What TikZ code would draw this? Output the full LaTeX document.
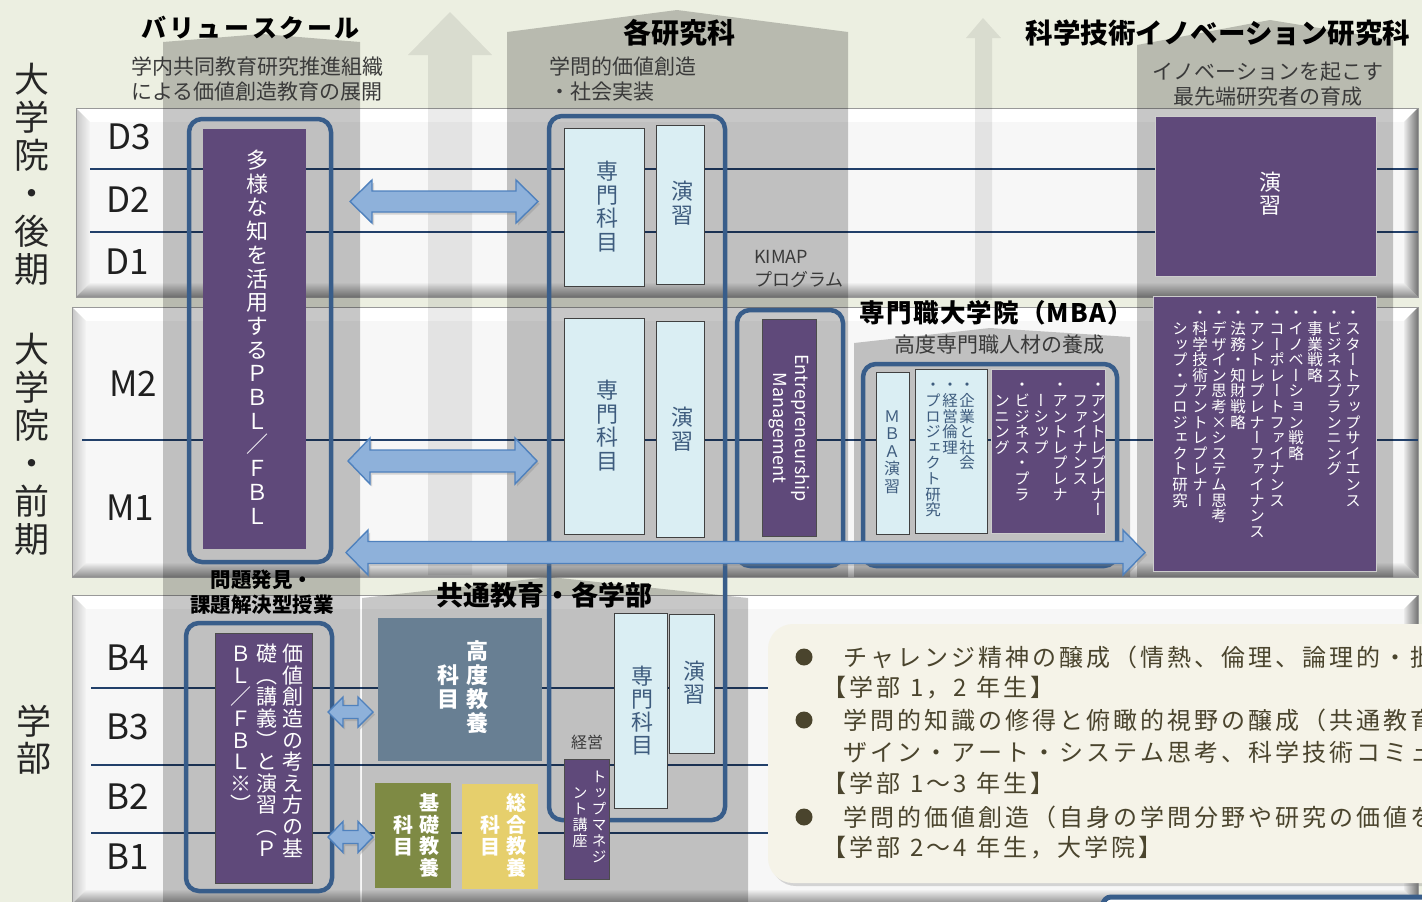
\documentclass[tikz,border=0pt]{standalone}
\usepackage{fontspec}
\setmainfont{Noto Sans CJK JP}
\newfontfamily\vjp[RawFeature=+vert]{Noto Sans CJK JP}
\newfontfamily\hjp{Noto Sans CJK JP}
\usetikzlibrary{shadows}
\definecolor{bgc}{HTML}{ECEFE1}
\definecolor{navy}{HTML}{22406A}
\definecolor{boxblue}{HTML}{385D8A}
\definecolor{purp}{HTML}{5F497A}
\definecolor{lblue}{HTML}{DAEEF3}
\definecolor{slate}{HTML}{3E5C7E}
\definecolor{arrowfill}{HTML}{8EB1DA}
\definecolor{arrowdraw}{HTML}{4F81BD}
\definecolor{steel}{HTML}{687F93}
\definecolor{olivebx}{HTML}{7E8A44}
\definecolor{mustard}{HTML}{E6CF6C}
\definecolor{cream}{HTML}{F5F3E8}
\definecolor{brownt}{HTML}{4A442D}
\definecolor{txt}{HTML}{3A3A3A}
\makeatletter
\newcommand\vstack[2]{\vbox{\baselineskip=#1pt\lineskiplimit=-\maxdimen\lineskip=0pt\@tfor\vs@c:=#2\do{\hbox to 1em{\hss\vs@c\hss\vrule height .88em depth .12em width 0pt}}}}
\newcommand\spaced[2]{\@tfor\sp@c:=#2\do{\sp@c\kern#1pt}}
\makeatother
\newcommand\bevband[4]{%
 \fill[white] (#1,#2) -- (#3,#2) -- (#3-14,#2+14) -- (#1+14,#2+14) -- cycle;
 \shade[left color=black!22, right color=black!4] (#1,#2) -- (#1+14,#2+14) -- (#1+14,#4-14) -- (#1,#4) -- cycle;
 \shade[top color=black!6, bottom color=black!45] (#1,#4) -- (#1+14,#4-14) -- (#3-14,#4-14) -- (#3,#4) -- cycle;
 \shade[left color=black!8, right color=black!55] (#3,#2) -- (#3-14,#2+14) -- (#3-14,#4-14) -- (#3,#4) -- cycle;
 \fill[black!3] (#1+14,#2+14) rectangle (#3-14,#4-14);
 \draw[black!40, line width=0.8pt] (#1,#2) rectangle (#3,#4);
}
\newcommand\dblarrow[6]{%
 \draw[barrow] (#1,#3) -- (#1+#6,#3-#4) -- (#1+#6,#3-#5) -- (#2-#6,#3-#5) -- (#2-#6,#3-#4) -- (#2,#3) -- (#2-#6,#3+#4) -- (#2-#6,#3+#5) -- (#1+#6,#3+#5) -- (#1+#6,#3+#4) -- cycle;}
\begin{document}
\begin{tikzpicture}[x=1pt,y=-1pt,
 vt/.style={inner sep=0pt, anchor=north},
 bluebx/.style={draw=boxblue, line width=4.5pt, rounded corners=13pt},
 pbox/.style={fill=purp, draw=black!70, line width=0.7pt},
 pboxw/.style={fill=purp, draw=white!80!black, line width=1pt},
 lbox/.style={fill=lblue, draw=black!75, line width=1pt},
 barrow/.style={fill=arrowfill, draw=arrowdraw, line width=1.4pt, drop shadow={shadow xshift=2pt, shadow yshift=-2.5pt, opacity=0.3}},
 colshade/.style={fill=black, fill opacity=0.22},
 lshade/.style={fill=black, fill opacity=0.08},
 rowline/.style={draw=navy, line width=1.8pt},
 rowlbl/.style={font=\fontsize{35}{38}\selectfont, text=black!88},
 sidelbl/.style={vt, font=\vjp\fontsize{35}{38}\selectfont, text=black!85},
 ttl/.style={font=\bfseries\fontsize{27}{30}\selectfont, text=black},
 sub/.style={font=\fontsize{21}{25}\selectfont, text=txt, align=center},
 wv/.style={vt, text=white},
 sv/.style={vt, text=slate},
 boxtxt/.style={anchor=west, inner sep=0pt, font=\fontsize{24}{28}\selectfont, text=brownt},
]
\fill[bgc] (0,0) rectangle (1422,902);
\path[use as bounding box] (0,0) rectangle (1422,902);
\clip (0,0) rectangle (1422,902);

% bands
\bevband{76}{108}{1418}{297}
\bevband{72}{307}{1418}{577}
\bevband{72}{595}{1418}{904}

% row lines
\draw[rowline] (90,169) -- (1418,169);
\draw[rowline] (90,232) -- (1418,232);
\draw[rowline] (82,440) -- (1418,440);
\draw[rowline] (91,688) -- (1418,688);
\draw[rowline] (91,765) -- (1418,765);
\draw[rowline] (91,833) -- (1418,833);

% shaded columns
\fill[colshade] (163,42) -- (262,34) -- (360,42) -- (360,902) -- (163,902) -- cycle;
\fill[colshade] (507,32) -- (677,10) -- (848,32) -- (848,577) -- (507,577) -- cycle;
\fill[colshade] (854,343) -- (990,328) -- (1130,337) -- (1130,577) -- (854,577) -- cycle;
\fill[colshade] (1137,45) -- (1270,20) -- (1393,40) -- (1393,577) -- (1137,577) -- cycle;
\fill[colshade] (362,598) -- (550,577) -- (748,598) -- (748,902) -- (362,902) -- cycle;
\fill[lshade] (450,12) -- (492,55) -- (472,55) -- (472,575) -- (428,575) -- (428,55) -- (408,55) -- cycle;
\fill[lshade] (983,18) -- (1001,38) -- (992,38) -- (992,300) -- (975,300) -- (975,38) -- (966,38) -- cycle;

% side labels
\node[sidelbl] (lblD) at (32,61) {\vstack{38}{大学院・後期}};
\node[sidelbl] (lblM) at (32,331) {\vstack{38}{大学院・前期}};
\node[sidelbl] (lblB) at (34,703) {\vstack{37}{学部}};

% row labels
\node[rowlbl] (rD3) at (129,137) {D3};
\node[rowlbl] (rD2) at (128,200) {D2};
\node[rowlbl] (rD1) at (127,262) {D1};
\node[rowlbl] (rM2) at (133,384) {M2};
\node[rowlbl] (rM1) at (130,508) {M1};
\node[rowlbl] (rB4) at (128,658) {B4};
\node[rowlbl] (rB3) at (128,727) {B3};
\node[rowlbl] (rB2) at (128,797) {B2};
\node[rowlbl] (rB1) at (128,857) {B1};

% header texts
\node[ttl, font=\bfseries\fontsize{25}{30}\selectfont] (vsTitle) at (252,28) {\spaced{2.6}{バリュースクール}};
\node[sub] (vsSub) at (257,78.5) {学内共同教育研究推進組織\\による価値創造教育の展開};
\node[ttl, font=\bfseries\fontsize{28}{30}\selectfont] (gkTitle) at (679,33) {各研究科};
\node[sub, anchor=west, align=left, inner sep=0pt] (gkSub) at (549,79.5) {学問的価値創造\\・社会実装};
\node[anchor=west, inner sep=0pt, align=left, font=\fontsize{18}{23}\selectfont, text=txt] (kimap) at (754,269.5) {KIMAP\\プログラム};
\node[ttl, font=\bfseries\fontsize{27.5}{30}\selectfont] (stTitle) at (1218,33) {科学技術イノベーション研究科};
\node[sub] (stSub) at (1268,84.5) {イノベーションを起こす\\最先端研究者の育成};
\node[ttl, font=\bfseries\fontsize{25.5}{30}\selectfont] (mbaTitle) at (997,313) {\spaced{1.2}{専門職大学院（MBA）}};
\node[sub] (mbaSub) at (999,345) {高度専門職人材の養成};
\node[ttl, font=\bfseries\fontsize{20.5}{25}\selectfont, align=center] (pbTitle) at (262,592.5) {問題発見・\\課題解決型授業};
\node[ttl, font=\bfseries\fontsize{27}{30}\selectfont] (kyTitle) at (544,595) {共通教育・各学部};
\node[font=\fontsize{16}{18}\selectfont, text=txt] (keiei) at (587,742) {経営};

% value school (graduate)
\draw[bluebx] (189,119) rectangle (331,562);
\fill[purp] (203,129) rectangle (306,549);
\node[wv, font=\vjp\fontsize{22}{24}\selectfont] (vsD) at (257,149) {\vstack{23.7}{多様な知を活用するＰＢＬ{\hjp ／}ＦＢＬ}};

% graduate schools
\draw[bluebx] (549,116) rectangle (725,820);
\draw[lbox] (564,128) rectangle (644,286);
\node[sv, font=\vjp\fontsize{22}{24}\selectfont] (senD) at (607,160) {\vstack{23.5}{専門科目}};
\draw[lbox] (656,125) rectangle (704,284);
\node[sv, font=\vjp\fontsize{22}{24}\selectfont] (enD) at (682,180) {\vstack{23.5}{演習}};
\draw[lbox] (564,318) rectangle (644,534);
\node[sv, font=\vjp\fontsize{22}{24}\selectfont] (senM) at (607,379) {\vstack{23.5}{専門科目}};
\draw[lbox] (656,321) rectangle (704,537);
\node[sv, font=\vjp\fontsize{22}{24}\selectfont] (enM) at (682,406) {\vstack{23.5}{演習}};
\draw[lbox] (614,613) rectangle (667,808);
\node[sv, font=\vjp\fontsize{22}{24}\selectfont] (senB) at (642,665) {\vstack{23}{専門科目}};
\draw[lbox] (669,614) rectangle (714,753);
\node[sv, font=\vjp\fontsize{22}{24}\selectfont] (enB) at (694,660) {\vstack{23}{演習}};

% KIMAP
\draw[bluebx] (737,310) rectangle (843,566);
\draw[pbox] (762,319) rectangle (816,536);
\node[rotate=-90, text=white, align=center, font=\fontsize{18}{22}\selectfont] (ent) at (789,428) {Entrepreneurship\\Management};

% MBA
\draw[bluebx] (863,364) rectangle (1117,566);
\draw[lbox] (876,372) rectangle (909,534);
\node[sv, font=\vjp\fontsize{16}{18}\selectfont] (mbaEn) at (892,408) {\vstack{17.5}{ＭＢＡ演習}};
\draw[lbox] (915,369) rectangle (987,533);
\node[sv, font=\vjp\fontsize{15.5}{17}\selectfont] (mc1) at (967,377) {\vstack{15.6}{・企業と社会}};
\node[sv, font=\vjp\fontsize{15.5}{17}\selectfont] (mc2) at (950,377) {\vstack{15.6}{・経営倫理}};
\node[sv, font=\vjp\fontsize{15.5}{17}\selectfont] (mc3) at (933,377) {\vstack{15.6}{・プロジェクト研究}};
\draw[pboxw] (991,369) rectangle (1105,533);
\node[wv, font=\vjp\fontsize{15.5}{17}\selectfont] (mp1) at (1098,377) {\vstack{15.6}{・アントレプレナー}};
\node[wv, font=\vjp\fontsize{15.5}{17}\selectfont] (mp2) at (1080,392.6) {\vstack{15.6}{ファイナンス}};
\node[wv, font=\vjp\fontsize{15.5}{17}\selectfont] (mp3) at (1060,377) {\vstack{15.6}{・アントレプレナ}};
\node[wv, font=\vjp\fontsize{15.5}{17}\selectfont] (mp4) at (1041,392.6) {\vstack{15.6}{ーシップ}};
\node[wv, font=\vjp\fontsize{15.5}{17}\selectfont] (mp5) at (1022,377) {\vstack{15.6}{・ビジネス・プラ}};
\node[wv, font=\vjp\fontsize{15.5}{17}\selectfont] (mp6) at (1002,392.6) {\vstack{15.6}{ンニング}};

% science & technology innovation
\draw[pboxw] (1155,116) rectangle (1376,276);
\node[wv, font=\vjp\fontsize{22}{24}\selectfont] (stEn) at (1270,171) {\vstack{23}{演習}};
\draw[pboxw] (1153,296) rectangle (1376,571);
\node[wv, font=\vjp\fontsize{15.5}{17}\selectfont] (sc1) at (1353,305) {\vstack{15.6}{・スタートアップサイエンス}};
\node[wv, font=\vjp\fontsize{15.5}{17}\selectfont] (sc2) at (1334,305) {\vstack{15.6}{・ビジネスプランニング}};
\node[wv, font=\vjp\fontsize{15.5}{17}\selectfont] (sc3) at (1315,305) {\vstack{15.6}{・事業戦略}};
\node[wv, font=\vjp\fontsize{15.5}{17}\selectfont] (sc4) at (1296,305) {\vstack{15.6}{・イノベーション戦略}};
\node[wv, font=\vjp\fontsize{15.5}{17}\selectfont] (sc5) at (1277,305) {\vstack{15.6}{・コーポレートファイナンス}};
\node[wv, font=\vjp\fontsize{15.5}{17}\selectfont] (sc6) at (1257,305) {\vstack{15.6}{・アントレプレナーファイナンス}};
\node[wv, font=\vjp\fontsize{15.5}{17}\selectfont] (sc7) at (1238,305) {\vstack{15.6}{・法務・知財戦略}};
\node[wv, font=\vjp\fontsize{15.5}{17}\selectfont] (sc8) at (1219,305) {\vstack{15.6}{・デザイン思考×システム思考}};
\node[wv, font=\vjp\fontsize{15.5}{17}\selectfont] (sc9) at (1200,305) {\vstack{15.6}{・科学技術アントレプレナー}};
\node[wv, font=\vjp\fontsize{15.5}{17}\selectfont] (sc10) at (1180,320.6) {\vstack{15.6}{シップ・プロジェクト研究}};

% value school (undergraduate)
\draw[bluebx] (186,623) rectangle (332,891);
\draw[pbox] (215,633) rectangle (312,883);
\node[wv, font=\vjp\fontsize{21}{24}\selectfont] (vb1) at (293,643) {\vstack{21.6}{価値創造の考え方の基}};
\node[wv, font=\vjp\fontsize{21}{24}\selectfont] (vb2) at (267,643) {\vstack{21.6}{礎（講義）と演習（Ｐ}};
\node[wv, font=\vjp\fontsize{21}{24}\selectfont] (vb3) at (241,643) {\vstack{21.6}{ＢＬ{\hjp ／}ＦＢＬ※）}};

% liberal arts
\fill[steel] (378,618) rectangle (542,761);
\node[wv, font=\vjp\bfseries\fontsize{22}{24}\selectfont] (kd1) at (477,640) {\vstack{24}{高度教養}};
\node[wv, font=\vjp\bfseries\fontsize{22}{24}\selectfont] (kd2) at (448,664) {\vstack{24}{科目}};
\fill[olivebx] (375,783) rectangle (451,888);
\node[wv, font=\vjp\bfseries\fontsize{20}{22}\selectfont] (kk1) at (429,793) {\vstack{21.5}{基礎教養}};
\node[wv, font=\vjp\bfseries\fontsize{20}{22}\selectfont] (kk2) at (403,815) {\vstack{21.5}{科目}};
\fill[mustard] (462,784) rectangle (538,889);
\node[wv, font=\vjp\bfseries\fontsize{20}{22}\selectfont] (sg1) at (516,793) {\vstack{21.5}{総合教養}};
\node[wv, font=\vjp\bfseries\fontsize{20}{22}\selectfont] (sg2) at (490,815) {\vstack{21.5}{科目}};

% top management
\draw[pbox] (564,759) rectangle (609,879);
\node[wv, font=\vjp\fontsize{15}{17}\selectfont] (tm1) at (599,769) {\vstack{16}{トップマネジ}};
\node[wv, font=\vjp\fontsize{15}{17}\selectfont] (tm2) at (580,785) {\vstack{16}{ント講座}};

% block arrows
\dblarrow{350}{538}{201.5}{21.5}{10.5}{22}
\dblarrow{348}{537}{461}{23}{11}{22}
\dblarrow{346}{1145}{552.5}{22.5}{11}{22}
\dblarrow{328}{373}{712}{15}{6.5}{15}
\dblarrow{328}{373}{837}{15.5}{6.5}{15}

% text box
\fill[cream, rounded corners=25pt, drop shadow={shadow xshift=3pt, shadow yshift=-3pt, opacity=0.3}] (768,624) rectangle (1470,883);
\fill[brownt] (804,657) circle (8.5);
\fill[brownt] (804,720) circle (8.5);
\fill[brownt] (804,817) circle (8.5);
\node[boxtxt] (t1) at (843,657) {\spaced{3}{チャレンジ精神の醸成（情熱、倫理、論理的・批}};
\node[boxtxt] (t2) at (822,688) {\spaced{3}{【学部{\kern4pt}1，2{\kern4pt}年生】}};
\node[boxtxt] (t3) at (843,720) {\spaced{3}{学問的知識の修得と俯瞰的視野の醸成（共通教育}};
\node[boxtxt] (t4) at (843,752) {\spaced{3}{ザイン・アート・システム思考、科学技術コミュ}};
\node[boxtxt] (t5) at (822,783) {\spaced{3}{【学部{\kern4pt}1～3{\kern4pt}年生】}};
\node[boxtxt] (t6) at (843,817) {\spaced{3}{学問的価値創造（自身の学問分野や研究の価値を}};
\node[boxtxt] (t7) at (822,848) {\spaced{3}{【学部{\kern4pt}2～4{\kern4pt}年生，大学院】}};

% partial box at bottom right
\draw[draw=boxblue, line width=5pt, fill=white, rounded corners=8pt] (1103,897) rectangle (1480,960);
\end{tikzpicture}
\end{document}
